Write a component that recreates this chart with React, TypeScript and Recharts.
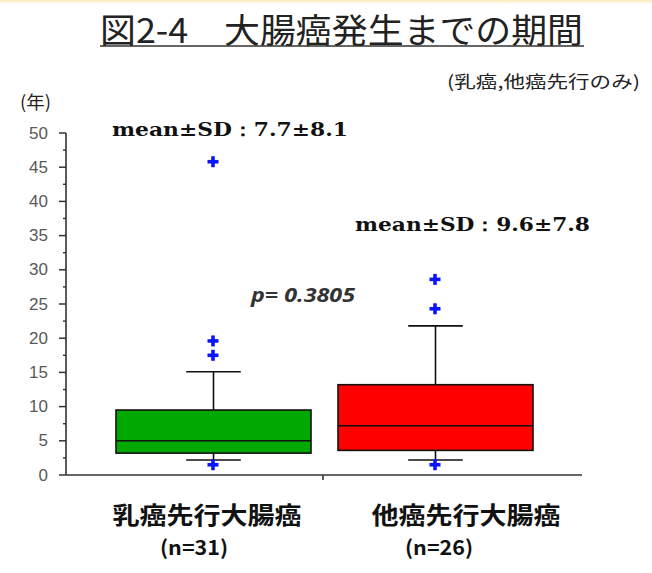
import React from "react";
import { ComposedChart, Bar, Scatter, XAxis, YAxis } from "recharts";

// values (years)
const groups = ["乳癌先行大腸癌", "他癌先行大腸癌"];
const counts = ["(n=31)", "(n=26)"];
const lowWhisker = [2.2, 2.2];
const q1 = [3.2, 3.6];
const medians = [5.0, 7.2];
const q3 = [9.5, 13.2];
const highWhisker = [15.1, 21.8];
const outliers = [
  [1.5, 17.5, 19.6, 45.8],
  [1.5, 24.3, 28.6],
];
const meanSd = ["mean±SD：7.7±8.1", "mean±SD：9.6±7.8"];
const pValue = "p= 0.3805";
const yTicks = [0, 2.5, 5, 7.5, 10, 12.5, 15, 17.5, 20, 22.5, 25, 27.5, 30, 32.5, 35, 37.5, 40, 42.5, 45, 47.5, 50];

const boxColors = ["#00a800", "#ff0000"];
const labelShift = [-6, 31];
const countShift = [-19, 4];
const JP = "'Noto Sans CJK JP', sans-serif";

const data = groups.map((name, i) => ({
  name,
  n: counts[i],
  lo: lowWhisker[i],
  q1: q1[i],
  med: medians[i],
  q3: q3[i],
  hi: highWhisker[i],
  box: [q1[i], q3[i]],
  o0: outliers[i][0],
  o1: outliers[i][1],
  o2: outliers[i][2],
  o3: outliers[i][3],
}));

const BoxShape = (props: any) => {
  const { x, y, width, height, payload, index } = props;
  const h = Math.abs(height);
  const top = Math.min(y, y + height);
  const ppu = h / (payload.q3 - payload.q1);
  const base = top + h;
  const py = (v: number) => base - (v - payload.q1) * ppu;
  const cx = x + width / 2;
  const cap = width * 0.28;
  const s = "#111";
  return (
    <g>
      <line x1={cx} x2={cx} y1={py(payload.hi)} y2={top} stroke={s} strokeWidth={1.6} />
      <line x1={cx - cap / 2} x2={cx + cap / 2} y1={py(payload.hi)} y2={py(payload.hi)} stroke={s} strokeWidth={1.6} />
      <line x1={cx} x2={cx} y1={base} y2={py(payload.lo)} stroke={s} strokeWidth={1.6} />
      <line x1={cx - cap / 2} x2={cx + cap / 2} y1={py(payload.lo)} y2={py(payload.lo)} stroke={s} strokeWidth={1.6} />
      <rect x={x} y={top} width={width} height={h} fill={boxColors[index]} stroke={s} strokeWidth={1.6} />
      <line x1={x} x2={x + width} y1={py(payload.med)} y2={py(payload.med)} stroke={s} strokeWidth={1.6} />
    </g>
  );
};

const PlusShape = (props: any) => {
  const { cx, cy } = props;
  if (cx == null || cy == null || isNaN(cx) || isNaN(cy)) return <g />;
  return (
    <g fill="#0a14ff">
      <rect x={cx - 5.5} y={cy - 1.8} width={11} height={3.6} />
      <rect x={cx - 1.8} y={cy - 5.5} width={3.6} height={11} />
    </g>
  );
};

const YTick = (props: any) => {
  const { x, y, payload } = props;
  const v = payload.value;
  if (v % 5 !== 0) {
    return <line x1={x - 3} x2={x} y1={y} y2={y} stroke="#333" strokeWidth={1.4} />;
  }
  return (
    <g>
      <line x1={x - 7} x2={x} y1={y} y2={y} stroke="#333" strokeWidth={1.5} />
      <text x={x - 18} y={y} textAnchor="end" dominantBaseline="central" fontSize={17} fill="#595959" fontFamily="'Liberation Sans', Arial, sans-serif">
        {v}
      </text>
    </g>
  );
};

const XTick = (props: any) => {
  const { x, y, index } = props;
  return (
    <g fontFamily={JP} fill="#111" fontWeight={700}>
      <text x={x + labelShift[index]} y={y + 38} textAnchor="middle" dominantBaseline="central" fontSize={24} textLength={189} lengthAdjust="spacingAndGlyphs">
        {groups[index]}
      </text>
      <text x={x + countShift[index]} y={y + 71} textAnchor="middle" dominantBaseline="central" fontSize={20} textLength={68} lengthAdjust="spacingAndGlyphs">
        {counts[index]}
      </text>
    </g>
  );
};

export default function App() {
  return (
    <div style={{ position: "absolute", left: 0, top: 0, width: 652, height: 573, background: "#fff", overflow: "hidden" }}>
      <div style={{ position: "absolute", left: 0, top: 0, width: 652, height: 4, background: "linear-gradient(#f9ecb8, #fff)" }} />
      <ComposedChart width={652} height={573} data={data} margin={{ top: 133, right: 70, bottom: 68, left: 0 }}>
        <YAxis
          type="number"
          domain={[0, 50]}
          ticks={yTicks}
          interval={0}
          width={66}
          tickSize={0}
          tickMargin={0}
          tickLine={false}
          axisLine={{ stroke: "#333", strokeWidth: 1.6 }}
          tick={<YTick />}
        />
        <XAxis
          dataKey="name"
          height={30}
          padding={{ left: 36, right: 36 }}
          tickSize={0}
          tickMargin={0}
          tickLine={false}
          axisLine={{ stroke: "#333", strokeWidth: 1.6 }}
          tick={<XTick />}
        />
        <Bar dataKey="box" barSize={195} shape={<BoxShape />} isAnimationActive={false} />
        <Scatter dataKey="o0" shape={<PlusShape />} isAnimationActive={false} />
        <Scatter dataKey="o1" shape={<PlusShape />} isAnimationActive={false} />
        <Scatter dataKey="o2" shape={<PlusShape />} isAnimationActive={false} />
        <Scatter dataKey="o3" shape={<PlusShape />} isAnimationActive={false} />
      </ComposedChart>
      <svg width={652} height={573} style={{ position: "absolute", left: 0, top: 0, pointerEvents: "none" }}>
        <line x1={323} x2={323} y1={475} y2={480} stroke="#333" strokeWidth={1.6} />
        <text x={100} y={28} dominantBaseline="central" fontSize={34} fill="#222" fontFamily={JP} textLength={483} lengthAdjust="spacingAndGlyphs">
          図2-4　大腸癌発生までの期間
        </text>
        <line x1={100} x2={584} y1={46} y2={46} stroke="#333" strokeWidth={1.5} />
        <text x={447} y={80} dominantBaseline="central" fontSize={17} fill="#222" fontFamily={JP} textLength={193} lengthAdjust="spacingAndGlyphs">
          (乳癌,他癌先行のみ)
        </text>
        <text x={20} y={101} dominantBaseline="central" fontSize={18} fill="#222" fontFamily={JP} textLength={31} lengthAdjust="spacingAndGlyphs">
          (年)
        </text>
        <text x={112} y={129} dominantBaseline="central" fontSize={18} fontWeight={700} fill="#111" fontFamily="'DejaVu Serif', serif" textLength={236} lengthAdjust="spacingAndGlyphs">
          {meanSd[0]}
        </text>
        <text x={355} y={224} dominantBaseline="central" fontSize={18} fontWeight={700} fill="#111" fontFamily="'DejaVu Serif', serif" textLength={235} lengthAdjust="spacingAndGlyphs">
          {meanSd[1]}
        </text>
        <text x={251} y={295} dominantBaseline="central" fontSize={19} fontWeight={700} fontStyle="italic" fill="#333" fontFamily="'Open Sans', sans-serif" textLength={104} lengthAdjust="spacingAndGlyphs">
          {pValue}
        </text>
      </svg>
    </div>
  );
}
